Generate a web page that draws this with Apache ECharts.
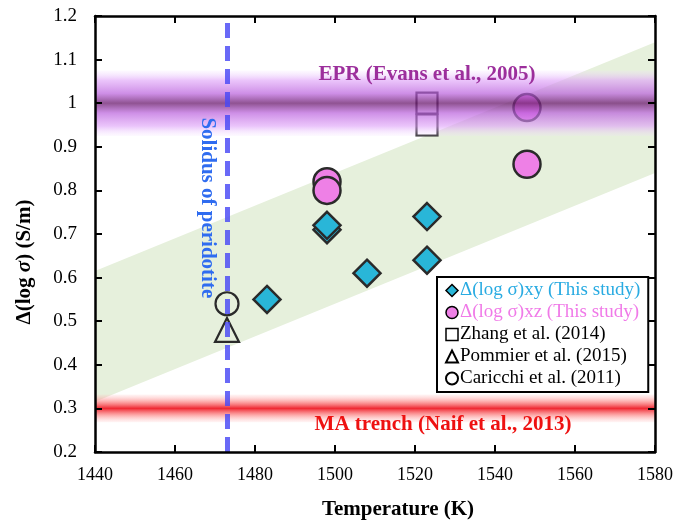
<!DOCTYPE html>
<html>
<head>
<meta charset="utf-8">
<script src="https://cdn.jsdelivr.net/npm/echarts@6/dist/echarts.min.js"></script>
<style>
  html, body { margin: 0; padding: 0; background: #fff; }
  #chart { width: 686px; height: 524px; }
</style>
</head>
<body>
<div id="chart"></div>
<script>
// Temperature axis ticks and conductivity-contrast axis ticks
const tempTicks = [1440, 1460, 1480, 1500, 1520, 1540, 1560, 1580];
const sigmaTicks = [0.2, 0.3, 0.4, 0.5, 0.6, 0.7, 0.8, 0.9, 1.0, 1.1, 1.2];

// Δ(log σ)xy, this study
const xyTemp = [1483, 1498, 1498, 1508, 1523, 1523];
const xyVal  = [0.55, 0.71, 0.72, 0.61, 0.64, 0.74];
// Δ(log σ)xz, this study
const xzTemp = [1498, 1498, 1548, 1548];
const xzVal  = [0.82, 0.80, 0.99, 0.86];
// Literature values
const zhangTemp = [1523, 1523];
const zhangVal  = [1.00, 0.95];
const pommierTemp = [1473];
const pommierVal  = [0.48];
const caricchiTemp = [1473];
const caricchiVal  = [0.54];

// Shaded trend band (lower and upper edge at each end)
const bandTemp  = [1440, 1580];
const bandLower = [0.315, 0.84];
const bandUpper = [0.615, 1.14];

// Reference levels
const eprLevel = 1.0;
const eprHalfWidth = 0.075;
const maLevel = 0.30;
const maHalfWidth = 0.032;
const solidusTemp = 1473;

const seriesNames = [
  'Δ(log σ)xy (This study)',
  'Δ(log σ)xz (This study)',
  'Zhang et al. (2014)',
  'Pommier et al. (2015)',
  'Caricchi et al. (2011)'
];

const pairs = (xs, ys) => xs.map((x, i) => [x, ys[i]]);
const serif = 'Liberation Serif, Times New Roman, serif';
const edge = '#2a2a2a';

const chart = echarts.init(document.getElementById('chart'), null, { renderer: 'canvas' });

const axisCommon = {
  type: 'value',
  axisLine: { show: true, onZero: false, lineStyle: { color: '#000', width: 2.5 } },
  axisTick: { show: true, inside: true, length: 7, lineStyle: { color: '#000', width: 2 } },
  splitLine: { show: false }
};

const option = {
  animation: false,
  backgroundColor: '#fff',
  grid: { left: 95, right: 31, top: 16, bottom: 72 },
  xAxis: [
    Object.assign({}, axisCommon, {
      position: 'bottom', z: 20,
      min: tempTicks[0], max: tempTicks[tempTicks.length - 1], interval: 20,
      axisLabel: { color: '#000', fontFamily: serif, fontSize: 18, margin: 14,
        formatter: v => String(v) }
    }),
    Object.assign({}, axisCommon, {
      position: 'top', z: 20,
      min: tempTicks[0], max: tempTicks[tempTicks.length - 1], interval: 20,
      axisLabel: { show: false }
    })
  ],
  yAxis: [
    Object.assign({}, axisCommon, {
      position: 'left', z: 20,
      min: sigmaTicks[0], max: sigmaTicks[sigmaTicks.length - 1], interval: 0.1,
      axisLabel: { color: '#000', fontFamily: serif, fontSize: 19, margin: 18 }
    }),
    Object.assign({}, axisCommon, {
      position: 'right', z: 20,
      min: sigmaTicks[0], max: sigmaTicks[sigmaTicks.length - 1], interval: 0.1,
      axisLabel: { show: false }
    })
  ],
  legend: {
    orient: 'vertical',
    left: 437, top: 277, z: 30,
    backgroundColor: '#fff',
    borderColor: '#000',
    borderWidth: 2,
    padding: [4, 8, 4, 8],
    itemGap: 3,
    itemWidth: 12,
    itemHeight: 12,
    textStyle: { fontFamily: serif, fontSize: 19, color: '#000', padding: [0, 0, 0, -3] },
    data: [
      { name: seriesNames[0], icon: 'diamond', textStyle: { color: '#29abe2' },
        itemStyle: { color: '#29b6d8', borderColor: '#000', borderWidth: 1.5 } },
      { name: seriesNames[1], icon: 'circle', textStyle: { color: '#f07ae8' },
        itemStyle: { color: '#ee80e6', borderColor: '#000', borderWidth: 1.5 } },
      { name: seriesNames[2], icon: 'rect',
        itemStyle: { color: '#fff', borderColor: '#000', borderWidth: 1.5 } },
      { name: seriesNames[3], icon: 'triangle',
        itemStyle: { color: '#fff', borderColor: '#000', borderWidth: 2 } },
      { name: seriesNames[4], icon: 'circle',
        itemStyle: { color: '#fff', borderColor: '#000', borderWidth: 2 } }
    ]
  },
  graphic: [
    {
      type: 'text',
      style: {
        x: 398, y: 510, text: 'Temperature (K)', align: 'center', verticalAlign: 'middle',
        font: 'bold 21px ' + serif, fill: '#000'
      }
    },
    {
      type: 'text', x: 25, y: 262, rotation: Math.PI / 2,
      style: {
        text: '{a|Δ(log }{b|σ}{a|) (S/m)}', align: 'center', verticalAlign: 'middle',
        rich: {
          a: { fontFamily: serif, fontWeight: 'bold', fontSize: 21, fill: '#000', color: '#000' },
          b: { fontFamily: serif, fontWeight: 'bold', fontStyle: 'italic', fontSize: 21, fill: '#000', color: '#000' }
        }
      }
    }
  ],
  series: [
    {
      // trend band
      name: 'band', type: 'custom', z: 1, silent: true,
      data: [[bandTemp[0], bandLower[0]]],
      renderItem: function (params, api) {
        const pts = [];
        for (let i = 0; i < bandTemp.length; i++) pts.push(api.coord([bandTemp[i], bandUpper[i]]));
        for (let i = bandTemp.length - 1; i >= 0; i--) pts.push(api.coord([bandTemp[i], bandLower[i]]));
        return { type: 'polygon', shape: { points: pts }, style: { fill: '#e6f0dc' } };
      }
    },
    {
      // MA trench level
      name: 'ma', type: 'line', z: 2, data: [], silent: true,
      markArea: {
        silent: true, z: 2,
        itemStyle: {
          color: new echarts.graphic.LinearGradient(0, 0, 0, 1, [
            { offset: 0, color: 'rgba(255,190,190,0.15)' },
            { offset: 0.25, color: 'rgba(252,120,120,0.6)' },
            { offset: 0.5, color: 'rgba(238,30,40,0.95)' },
            { offset: 0.75, color: 'rgba(252,120,120,0.6)' },
            { offset: 1, color: 'rgba(255,190,190,0.15)' }
          ])
        },
        data: [[{ yAxis: maLevel - maHalfWidth }, { yAxis: maLevel + maHalfWidth }]]
      },
      markPoint: {
        symbol: 'circle', symbolSize: 0, silent: true, z: 12,
        label: {
          show: true, position: 'inside', color: '#ee1111',
          fontFamily: serif, fontWeight: 'bold', fontSize: 21,
          formatter: 'MA trench (Naif et al., 2013)'
        },
        data: [{ coord: [1527, 0.262] }]
      }
    },
    {
      name: seriesNames[0], type: 'scatter', z: 5,
      symbol: 'diamond', symbolSize: 27,
      itemStyle: { color: '#29b6d8', borderColor: edge, borderWidth: 2.5, opacity: 1 },
      data: pairs(xyTemp, xyVal)
    },
    {
      name: seriesNames[1], type: 'scatter', z: 5,
      symbol: 'circle', symbolSize: 27,
      itemStyle: { color: '#ee80e6', borderColor: edge, borderWidth: 2.5, opacity: 1 },
      data: pairs(xzTemp, xzVal)
    },
    {
      name: seriesNames[2], type: 'scatter', z: 5,
      symbol: 'rect', symbolSize: 21,
      itemStyle: { color: '#fff', borderColor: edge, borderWidth: 2.2, opacity: 1 },
      data: pairs(zhangTemp, zhangVal)
    },
    {
      name: seriesNames[3], type: 'scatter', z: 5,
      symbol: 'triangle', symbolSize: 24,
      itemStyle: { color: 'rgba(255,255,255,0)', borderColor: edge, borderWidth: 2.2, opacity: 1 },
      data: pairs(pommierTemp, pommierVal)
    },
    {
      name: seriesNames[4], type: 'scatter', z: 5,
      symbol: 'circle', symbolSize: 23,
      itemStyle: { color: 'rgba(255,255,255,0)', borderColor: edge, borderWidth: 2.2, opacity: 1 },
      data: pairs(caricchiTemp, caricchiVal)
    },
    {
      // EPR level, drawn over the markers
      name: 'epr', type: 'line', z: 8, data: [], silent: true,
      markArea: {
        silent: true, z: 8,
        itemStyle: {
          color: new echarts.graphic.LinearGradient(0, 0, 0, 1, [
            { offset: 0, color: 'rgba(240,215,255,0.15)' },
            { offset: 0.15, color: 'rgba(222,160,248,0.62)' },
            { offset: 0.35, color: 'rgba(185,95,220,0.7)' },
            { offset: 0.5, color: 'rgba(112,34,115,0.78)' },
            { offset: 0.65, color: 'rgba(185,95,220,0.7)' },
            { offset: 0.85, color: 'rgba(222,160,248,0.62)' },
            { offset: 1, color: 'rgba(240,215,255,0.15)' }
          ])
        },
        data: [[{ yAxis: eprLevel - eprHalfWidth }, { yAxis: eprLevel + eprHalfWidth }]]
      },
      markPoint: {
        symbol: 'circle', symbolSize: 0, silent: true, z: 12,
        label: {
          show: true, position: 'inside', color: '#9c2f9c',
          fontFamily: serif, fontWeight: 'bold', fontSize: 21,
          formatter: 'EPR (Evans et al., 2005)'
        },
        data: [{ coord: [1523, 1.065] }]
      }
    },
    {
      // peridotite solidus
      name: 'solidus', type: 'line', z: 10, data: [], silent: true,
      markLine: {
        silent: true, symbol: 'none', z: 10,
        lineStyle: { color: 'rgba(72,72,245,0.82)', width: 5, type: [15, 8] },
        label: { show: false },
        data: [{ xAxis: solidusTemp }]
      },
      markPoint: {
        symbol: 'circle', symbolSize: 0, silent: true, z: 12,
        label: {
          show: true, position: 'inside', rotate: -90, color: '#2f6cf0',
          fontFamily: serif, fontWeight: 'bold', fontSize: 21,
          formatter: 'Solidus of peridotite'
        },
        data: [{ coord: [1468, 0.76] }]
      }
    }
  ]
};

chart.setOption(option);
</script>
</body>
</html>
